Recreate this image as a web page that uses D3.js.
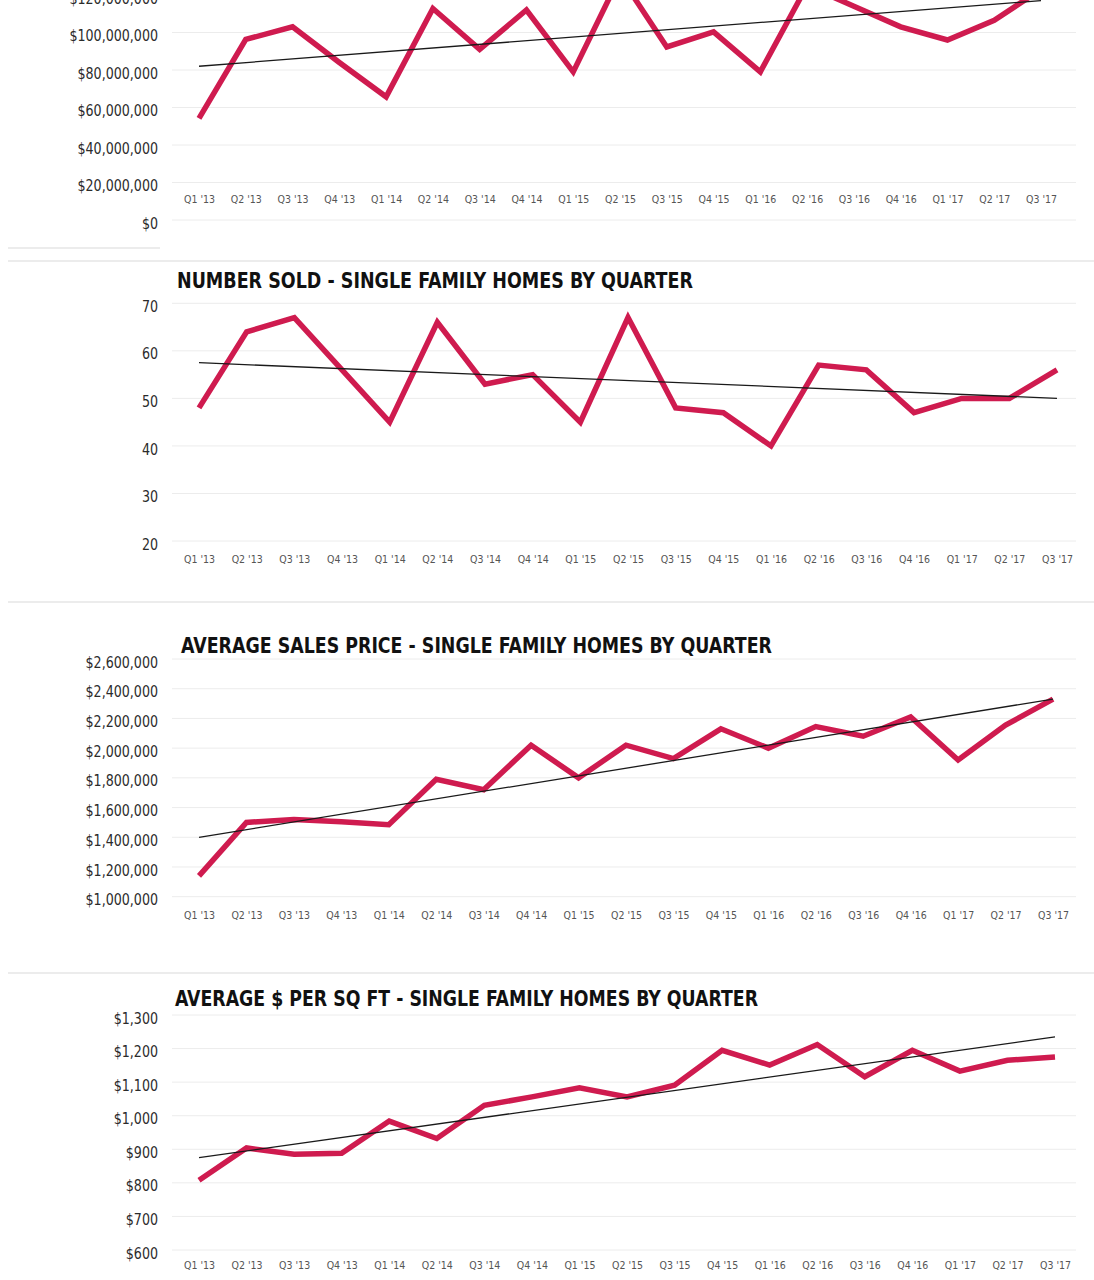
<!DOCTYPE html>
<html>
<head>
<meta charset="utf-8">
<script src="https://cdn.jsdelivr.net/npm/d3@7"></script>
<style>
  body { margin: 0; background: #fff; }
  svg { display: block; font-family: "Liberation Sans Narrow", "DejaVu Sans Condensed", sans-serif; }
</style>
</head>
<body>
<svg id="chart" width="1094" height="1280"></svg>
<script>
// quarters shared by all four charts
var quarters = ["Q1 '13", "Q2 '13", "Q3 '13", "Q4 '13", "Q1 '14", "Q2 '14", "Q3 '14", "Q4 '14",
                "Q1 '15", "Q2 '15", "Q3 '15", "Q4 '15", "Q1 '16", "Q2 '16", "Q3 '16", "Q4 '16",
                "Q1 '17", "Q2 '17", "Q3 '17"];

// top chart (title cut off in the picture) - dollar volume
var volumeValues = [54.2e6, 96.3e6, 103e6, 84e6, 65.7e6, 112.8e6, 91e6, 112e6, 79e6, 130e6,
                    92.3e6, 100.3e6, 79e6, 125e6, 114e6, 103e6, 96e6, 106.5e6, 123e6];
var volumeTicks = [0, 20e6, 40e6, 60e6, 80e6, 100e6, 120e6];
var volumeTrend = [82e6, 117e6];

// number sold
var soldValues = [48, 64, 67, 56, 45, 66, 53, 55, 45, 67, 48, 47, 40, 57, 56, 47, 50, 50, 56];
var soldTicks = [20, 30, 40, 50, 60, 70];
var soldTrend = [57.5, 50];

// average sales price
var priceValues = [1.14e6, 1.50e6, 1.52e6, 1.505e6, 1.485e6, 1.79e6, 1.72e6, 2.02e6, 1.80e6, 2.02e6,
                   1.93e6, 2.13e6, 2.00e6, 2.145e6, 2.08e6, 2.21e6, 1.92e6, 2.155e6, 2.33e6];
var priceTicks = [1.0e6, 1.2e6, 1.4e6, 1.6e6, 1.8e6, 2.0e6, 2.2e6, 2.4e6, 2.6e6];
var priceTrend = [1.40e6, 2.33e6];

// average $ per sq ft
var sqftValues = [808, 904, 885, 888, 984, 932, 1031, 1056, 1083, 1056,
                  1091, 1195, 1151, 1212, 1116, 1195, 1133, 1165, 1175];
var sqftTicks = [600, 700, 800, 900, 1000, 1100, 1200, 1300];
var sqftTrend = [875, 1235];

var titles = [null,
  "NUMBER SOLD - SINGLE FAMILY HOMES BY QUARTER",
  "AVERAGE SALES PRICE - SINGLE FAMILY HOMES BY QUARTER",
  "AVERAGE $ PER SQ FT - SINGLE FAMILY HOMES BY QUARTER"];

var money = d3.format("$,");

var panels = [
  { values: volumeValues, ticks: volumeTicks, trend: volumeTrend, fmt: money,
    yRange: [220, -5], xRange: [199, 1041], labelY: 200, title: titles[0] },
  { values: soldValues, ticks: soldTicks, trend: soldTrend, fmt: d3.format("d"),
    yRange: [541, 303.3], xRange: [199, 1057], labelY: 560, title: titles[1],
    titleX: 177, titleY: 288, titleW: 516 },
  { values: priceValues, ticks: priceTicks, trend: priceTrend, fmt: money,
    yRange: [896.7, 659], xRange: [199, 1053], labelY: 916, title: titles[2],
    titleX: 181, titleY: 653, titleW: 591 },
  { values: sqftValues, ticks: sqftTicks, trend: sqftTrend, fmt: money,
    yRange: [1250, 1015], xRange: [199, 1055], labelY: 1266, title: titles[3],
    titleX: 175, titleY: 1006, titleW: 583 }
];

var svg = d3.select("#chart");

// faint separators between the charts
var seps = [[8, 160, 248], [8, 1094, 261], [8, 1094, 602], [8, 1094, 973]];
svg.selectAll("line.sep")
    .data(seps)
    .enter().append("line")
      .attr("class", "sep")
      .attr("x1", function(d) { return d[0]; })
      .attr("x2", function(d) { return d[1]; })
      .attr("y1", function(d) { return d[2]; })
      .attr("y2", function(d) { return d[2]; })
      .attr("stroke", "#e6e6e6")
      .attr("stroke-width", 1.5);

panels.forEach(function(p) {
  var x = d3.scalePoint().domain(quarters).range(p.xRange);
  var y = d3.scaleLinear().domain(d3.extent(p.ticks)).range(p.yRange);
  var g = svg.append("g");

  // grid
  g.selectAll("line.grid")
    .data(p.ticks)
    .enter().append("line")
      .attr("class", "grid")
      .attr("x1", 172)
      .attr("x2", 1076)
      .attr("y1", function(d) { return y(d); })
      .attr("y2", function(d) { return y(d); })
      .attr("stroke", "#ececec")
      .attr("stroke-width", 1);

  // y labels (squeezed a little to look like the condensed original)
  var ya = g.append("g")
      .attr("transform", "translate(158,3) scale(0.88,1)")
      .call(d3.axisLeft(y).tickValues(p.ticks).tickFormat(p.fmt).tickSize(0).tickPadding(0));
  ya.select(".domain").remove();
  ya.attr("font-family", null).attr("font-size", 16);
  ya.selectAll("text").attr("fill", "#2b2b2b");

  // x labels
  var xa = g.append("g")
      .attr("transform", "translate(0," + (p.labelY - 4) + ")")
      .call(d3.axisBottom(x).tickSize(0).tickPadding(0));
  xa.select(".domain").remove();
  xa.attr("font-family", null).attr("font-size", 10.5);
  xa.selectAll("text").attr("fill", "#555");

  // data line
  var line = d3.line()
      .x(function(d, i) { return x(quarters[i]); })
      .y(function(d) { return y(d); });

  g.append("path")
      .datum(p.values)
      .attr("fill", "none")
      .attr("stroke", "#cf1b4f")
      .attr("stroke-width", 5.5)
      .attr("stroke-linejoin", "miter")
      .attr("d", line);

  // trend line
  g.append("line")
      .attr("x1", x(quarters[0]))
      .attr("y1", y(p.trend[0]))
      .attr("x2", x(quarters[quarters.length - 1]))
      .attr("y2", y(p.trend[1]))
      .attr("stroke", "#1a1a1a")
      .attr("stroke-width", 1.3);

  if (p.title) {
    g.append("text")
        .attr("x", p.titleX)
        .attr("y", p.titleY)
        .attr("font-size", 21)
        .attr("font-weight", "bold")
        .attr("fill", "#111")
        .attr("textLength", p.titleW)
        .attr("lengthAdjust", "spacingAndGlyphs")
        .text(p.title);
  }
});
</script>
</body>
</html>
